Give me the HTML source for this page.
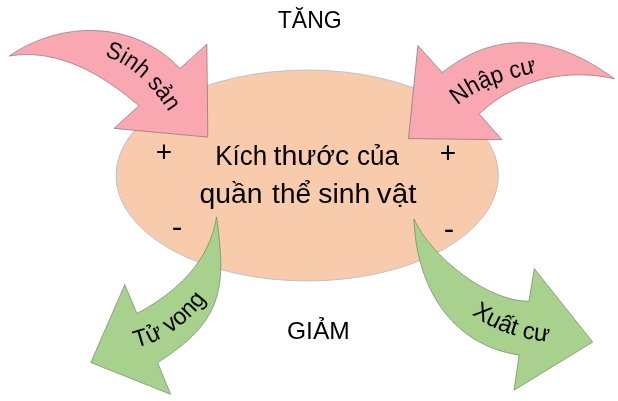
<!DOCTYPE html>
<html lang="vi">
<head>
<meta charset="utf-8">
<title>Kích thước của quần thể sinh vật</title>
<style>
html,body{margin:0;padding:0;background:#fff;}
body{width:618px;height:401px;overflow:hidden;position:relative;}
svg{display:block;position:absolute;left:0;top:0;will-change:transform;}
text{font-family:"Liberation Sans",sans-serif;fill:#000;}
</style>
</head>
<body>
<svg width="618" height="401" viewBox="0 0 618 401">
  <rect width="618" height="401" fill="#ffffff"/>
  <defs>
    <path id="t_sinh_p" d="M104.50 56.00 C132.38 63.99 154.63 89.41 170.00 114.00 L183.25 135.20"/>
    <path id="t_nhap_p" d="M457.50 105.50 C477.98 86.40 508.72 78.80 536.00 72.50 L560.36 66.88"/>
    <path id="t_tu_p" d="M136.00 347.50 C164.37 341.47 193.21 319.32 209.00 295.00 L222.62 274.03"/>
    <path id="t_xuat_p" d="M471.60 314.40 C493.44 330.27 521.07 339.62 548.00 341.50 L572.94 343.24"/>
  </defs>
  <!-- central ellipse -->
  <ellipse cx="307.2" cy="175.5" rx="191.2" ry="105.5" fill="#F8CBAD" stroke="#A6BACF" stroke-width="0.75"/>
  <!-- pink arrow left: Sinh sản -->
  <path d="M9.2 56 C62 19.7 134.9 20.5 180 68.5 L206.9 44.2 L207.8 137.1 L114.1 128.4 L138.9 105.8 C103.6 75.1 58.1 47.8 9.2 56 Z"
        fill="#F9A8B2" stroke="#7F676B" stroke-width="0.65"/>
  <!-- pink arrow right: Nhập cư -->
  <path d="M614.5 78.8 C557.7 37.1 499.6 26.9 442.2 72.6 L417.9 45.5 L408.5 138.6 L502 139.7 L479.3 114 C515 79.3 567.1 67.9 614.5 78.8 Z"
        fill="#F9A8B2" stroke="#7F676B" stroke-width="0.65"/>
  <!-- green arrow left: Tử vong -->
  <path d="M216.5 217 C209 262.6 176.4 292.3 136.9 313.5 L124.8 284.7 L90.8 362.5 L170.6 394.3 L157.6 362.6 C222.9 321.6 226.7 288 216.5 217 Z"
        fill="#A9D18E" stroke="#63805A" stroke-width="0.65"/>
  <!-- green arrow right: Xuất cư -->
  <path d="M414 219 C430.5 255.9 487.1 301.5 528.9 301.3 L534.3 268.6 L592.7 342.1 L514 390.2 L519.1 355 C448.9 344.7 416.1 283.8 414 219 Z"
        fill="#A9D18E" stroke="#63805A" stroke-width="0.65"/>

  <!-- horizontal labels -->
  <text id="t_l1" y="165.4" font-size="27"><tspan x="215.34" textLength="51.87" lengthAdjust="spacingAndGlyphs">Kích</tspan> <tspan x="273.50" textLength="75.72" lengthAdjust="spacingAndGlyphs">thước</tspan> <tspan x="356.91" textLength="42.03" lengthAdjust="spacingAndGlyphs">của</tspan></text>
  <text id="t_l2" y="202.9" font-size="27"><tspan x="199.62" textLength="62.96" lengthAdjust="spacingAndGlyphs">quần</tspan> <tspan x="272.11" textLength="38.90" lengthAdjust="spacingAndGlyphs">thể</tspan> <tspan x="318.31" textLength="52.06" lengthAdjust="spacingAndGlyphs">sinh</tspan> <tspan x="376.86" textLength="39.51" lengthAdjust="spacingAndGlyphs">vật</tspan></text>
  <text id="t_tang" y="27.6" font-size="24"><tspan x="277.82" textLength="63.90" lengthAdjust="spacingAndGlyphs">TĂNG</tspan></text>
  <text id="t_giam" y="339.0" font-size="24"><tspan x="287.02" textLength="62.79" lengthAdjust="spacingAndGlyphs">GIẢM</tspan></text>
  <text id="p1" y="162.0" font-size="29"><tspan x="155.67" textLength="16.43" lengthAdjust="spacingAndGlyphs">+</tspan></text>
  <text id="p2" y="163.0" font-size="29"><tspan x="439.77" textLength="16.43" lengthAdjust="spacingAndGlyphs">+</tspan></text>
  <text id="m1" y="237.3" font-size="29"><tspan x="171.83" textLength="10.59" lengthAdjust="spacingAndGlyphs">-</tspan></text>
  <text id="m2" y="238.6" font-size="29"><tspan x="443.85" textLength="10.45" lengthAdjust="spacingAndGlyphs">-</tspan></text>
  <!-- arrow labels -->
  <text id="t_sinh" font-size="24"><textPath href="#t_sinh_p" textLength="87" lengthAdjust="spacingAndGlyphs">Sinh sản</textPath></text>
  <text id="t_nhap" font-size="24"><textPath href="#t_nhap_p" textLength="87" lengthAdjust="spacingAndGlyphs">Nhập cư</textPath></text>
  <text id="t_tu" font-size="24"><textPath href="#t_tu_p" textLength="87" lengthAdjust="spacingAndGlyphs">Tử vong</textPath></text>
  <text id="t_xuat" font-size="24"><textPath href="#t_xuat_p" textLength="83" lengthAdjust="spacingAndGlyphs">Xuất cư</textPath></text>
</svg>
</body>
</html>
